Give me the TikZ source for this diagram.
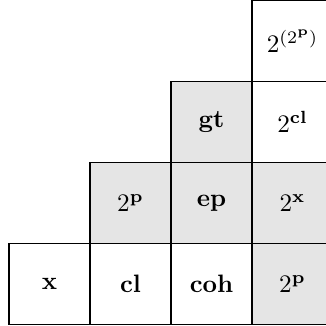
\documentclass[tikz,border=0pt]{standalone}
\usepackage{amsmath,amssymb,graphicx}
\usepackage{tikz}
\usetikzlibrary{positioning}
\newcommand{\cellt}[1]{\scalebox{2.15}{#1}}
\tikzset{
  cell/.style={draw=black,line width=0.9pt,minimum width=2.43cm,minimum height=2.43cm,
    inner sep=0pt},
  shaded/.style={cell,fill=gray!20},
}

\begin{document}
\begin{tikzpicture}[x=0.03cm,y=0.03cm]
  \useasboundingbox (0,0) rectangle (325,326);
  % bottom row
  \node[cell]   (x)   at (49.5,42)  {\cellt{$\mathbf{x}$}};
  \node[cell]   (cl)  at (130.5,42) {\cellt{$\mathbf{cl}$}};
  \node[cell]   (coh) at (211.5,42) {\cellt{$\mathbf{coh}$}};
  \node[shaded] (pb)  at (292.5,42) {\cellt{$2^{\mathbf{p}}$}};
  % second row
  \node[shaded] (pa)  at (130.5,123) {\cellt{$2^{\mathbf{p}}$}};
  \node[shaded] (ep)  at (211.5,123) {\cellt{$\mathbf{ep}$}};
  \node[shaded] (px)  at (292.5,123) {\cellt{$2^{\mathbf{x}}$}};
  % third row
  \node[shaded] (gt)  at (211.5,204) {\cellt{$\mathbf{gt}$}};
  \node[cell]   (pcl) at (292.5,204) {\cellt{$2^{\mathbf{cl}}$}};
  % top
  \node[cell]   (ppp) at (292.5,285) {\cellt{$2^{(2^{\mathbf{p}})}$}};
\end{tikzpicture}
\end{document}
